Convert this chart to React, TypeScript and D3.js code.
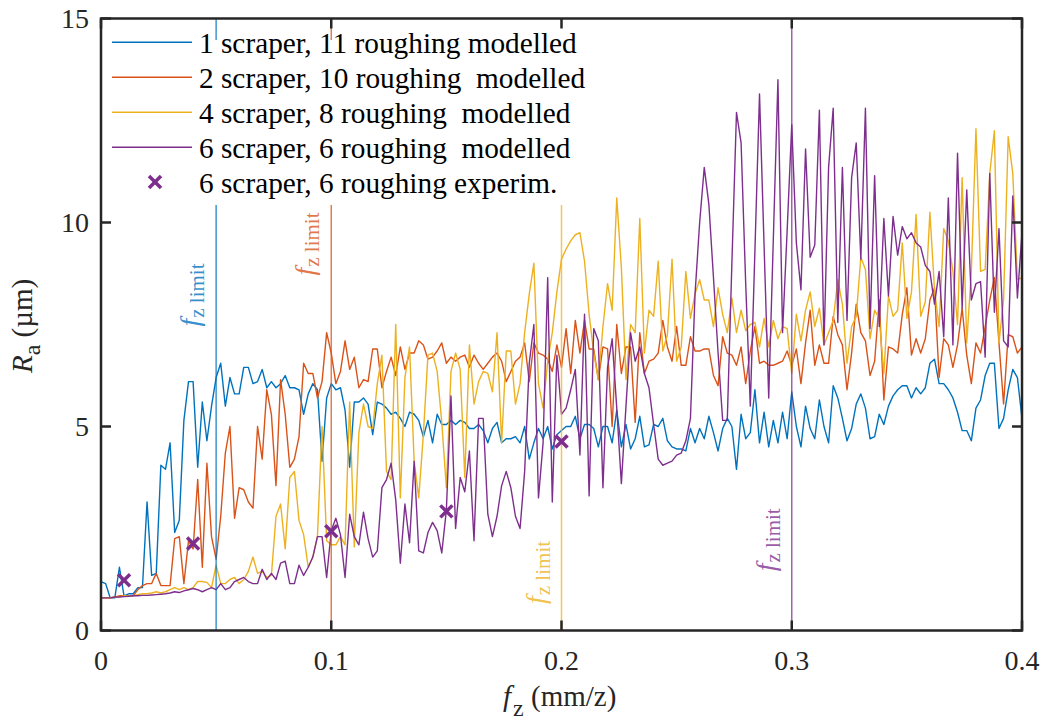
import React from 'react';
import * as d3 from 'd3';

// feed per tooth grid (mm/z), sampled every 0.002
const FZ_STEP = 0.002;
const FZ = d3.range(0, 201).map((i) => +(i * FZ_STEP).toFixed(3));

// 1 scraper, 11 roughing modelled
const RA_1S = [
  1.2, 1.15, 0.8, 0.8, 1.55, 0.85, 0.9, 0.9, 1.05, 1.05,
  3.15, 1.35, 1.4, 4.05, 3.95, 4.6, 2.4, 2.7, 5.15, 6.1,
  6.1, 4.0, 5.6, 4.65, 5.5, 6.2, 6.55, 5.5, 6.2, 5.8,
  5.8, 6.45, 6.45, 6.05, 6.1, 6.4, 5.95, 6.1, 5.95, 6.05,
  6.25, 5.95, 5.95, 5.9, 5.3, 5.8, 6.05, 5.9, 4.15, 5.7,
  6.05, 5.9, 5.95, 5.4, 4.0, 5.6, 5.6, 5.7, 5.55, 4.8,
  5.6, 5.55, 5.45, 5.3, 5.35, 5.2, 5.0, 5.35, 5.3, 5.15,
  4.75, 5.15, 4.6, 5.3, 5.05, 5.05, 5.15, 5.05, 5.15, 5.1,
  4.95, 4.95, 5.05, 4.9, 4.6, 4.95, 5.1, 4.6, 4.7, 4.7,
  4.75, 4.6, 5.0, 4.2, 4.6, 4.95, 4.7, 5.0, 4.45, 4.8,
  4.9, 5.0, 5.0, 5.25, 4.7, 5.05, 5.05, 4.95, 4.5, 5.0,
  5.0, 4.6, 5.4, 4.5, 5.05, 4.45, 4.7, 5.25, 4.5, 4.55,
  5.05, 5.0, 5.2, 4.65, 4.5, 4.45, 4.45, 4.4, 4.95, 4.6,
  4.95, 4.7, 5.25, 4.85, 4.4, 4.95, 5.2, 5.0, 3.95, 5.3,
  4.7, 4.85, 5.9, 4.6, 5.35, 4.5, 5.15, 4.6, 5.35, 4.7,
  5.85, 5.0, 4.5, 5.5, 4.95, 4.7, 5.65, 5.0, 4.6, 6.0,
  5.7, 5.2, 4.65, 4.95, 5.55, 5.8, 5.45, 4.7, 4.75, 5.3,
  5.05, 5.5, 5.75, 5.9, 6.0, 6.0, 5.7, 5.95, 5.8, 5.95,
  6.55, 6.65, 6.05, 6.05, 5.9, 5.7, 5.35, 4.9, 4.9, 4.65,
  5.45, 5.65, 6.25, 6.55, 6.55, 4.95, 5.2, 5.9, 6.4, 6.2,
  5.2,
];

// 2 scraper, 10 roughing modelled
const RA_2S = [
  0.8, 0.8, 0.8, 0.82, 0.85, 0.85, 0.85, 0.85, 1.0, 1.1,
  1.15, 1.15, 1.4, 1.1, 1.1, 1.1, 2.25, 2.3, 1.15, 2.2,
  2.0, 3.7, 1.55, 4.1, 2.3, 1.75, 2.8, 4.35, 5.0, 2.75,
  3.5, 3.45, 3.15, 3.0, 5.0, 4.2, 5.9, 5.3, 3.55, 6.15,
  5.3, 4.0, 4.2, 4.75, 6.55, 6.3, 6.3, 5.7, 6.1, 7.3,
  6.8, 6.05, 6.35, 7.1, 6.4, 6.7, 5.95, 6.15, 6.1, 6.9,
  6.9, 5.95, 6.35, 6.7, 6.25, 6.95, 6.4, 6.8, 6.8, 7.1,
  7.0, 6.65, 6.7, 6.85, 7.05, 6.55, 6.7, 6.6, 6.7, 6.75,
  6.45, 6.75, 6.55, 6.4, 6.55, 6.7, 6.8, 6.6, 6.1, 6.35,
  6.6, 6.7, 7.05, 6.1, 7.05, 6.8, 6.75, 6.65, 6.35, 7.0,
  6.45, 7.4, 6.3, 7.6, 6.8, 7.6, 6.9, 6.9, 6.15, 6.95,
  6.9, 5.0, 7.5, 6.3, 6.95, 6.95, 5.1, 7.3, 6.3, 6.6,
  6.65, 6.8, 7.6, 6.95, 6.6, 7.45, 6.5, 6.5, 7.2, 6.85,
  6.85, 6.9, 6.9, 6.25, 6.0, 7.2, 6.8, 6.75, 6.5, 6.95,
  6.05, 6.85, 7.45, 6.55, 6.6, 6.5, 6.5, 6.55, 6.6, 6.85,
  6.5, 6.9, 6.05, 7.05, 7.85, 6.5, 7.0, 6.55, 6.55, 7.7,
  7.25, 7.0, 5.9, 6.8, 8.0, 7.3, 7.1, 6.25, 6.6, 8.1,
  5.65, 6.95, 6.9, 6.8, 7.75, 8.4, 6.75, 7.15, 6.8, 7.15,
  8.1, 8.4, 6.2, 7.15, 7.0, 6.45, 7.0, 7.9, 6.75, 6.05,
  7.05, 6.8, 7.45, 8.1, 8.65, 7.05, 5.55, 7.25, 7.2, 6.8,
  6.95,
];

// 4 scraper, 8 roughing modelled
const RA_4S = [
  0.8, 0.8, 0.8, 0.82, 0.82, 0.85, 0.85, 0.85, 0.88, 0.9,
  0.9, 0.92, 0.95, 0.92, 0.95, 1.0, 1.05, 1.0, 1.05, 1.0,
  1.05, 1.2, 1.2, 1.18, 1.05, 1.6, 1.15, 1.15, 1.25, 1.3,
  1.15, 1.25, 1.45, 1.8, 1.4, 1.45, 1.3, 1.35, 2.8, 3.1,
  2.0, 3.75, 3.9, 2.7, 2.35, 1.55, 1.8, 2.3, 5.0, 2.2,
  2.1, 2.1, 2.3, 2.1, 5.6, 2.05, 4.85, 5.55, 5.0, 4.95,
  6.05, 6.75, 3.9, 3.7, 7.5, 3.25, 6.2, 6.95, 4.15, 3.25,
  4.8, 6.75, 6.8, 6.35, 5.1, 3.5, 6.35, 6.8, 6.4, 3.75,
  7.0, 5.55, 6.1, 6.35, 6.3, 5.85, 7.3, 4.6, 6.85, 6.85,
  5.55, 6.05, 7.3, 8.25, 9.0, 6.05, 5.45, 6.6, 7.3, 8.3,
  9.1, 9.35, 9.55, 9.7, 9.75, 9.05, 7.75, 6.8, 6.15, 7.45,
  8.5, 7.85, 10.6, 8.9, 6.15, 7.5, 7.3, 10.1, 6.8, 7.85,
  7.7, 9.05, 6.85, 7.25, 9.1, 6.6, 6.95, 8.8, 7.65, 8.25,
  8.6, 8.1, 8.1, 7.45, 8.4, 7.75, 7.3, 8.15, 7.3, 7.85,
  7.35, 7.5, 7.55, 6.95, 7.65, 6.95, 7.6, 7.15, 7.45, 7.4,
  6.3, 7.75, 7.1, 7.85, 8.3, 7.45, 7.9, 7.0, 7.3, 7.6,
  8.6, 8.0, 6.55, 7.45, 7.7, 9.15, 8.85, 7.15, 7.85, 7.65,
  6.3, 8.2, 7.7, 7.85, 9.5, 7.65, 8.3, 10.2, 7.7, 8.05,
  10.25, 8.35, 7.45, 9.85, 9.55, 8.8, 7.5, 11.1, 7.05, 8.8,
  12.3, 8.8, 8.85, 11.2, 12.25, 7.05, 8.1, 12.1, 11.2, 8.6,
  8.65,
];

// 6 scraper, 6 roughing modelled
const RA_6S = [
  0.8, 0.8, 0.8, 0.82, 0.82, 0.83, 0.84, 0.85, 0.85, 0.86,
  0.86, 0.87, 0.88, 0.89, 0.9, 0.92, 0.95, 0.93, 0.97, 1.0,
  1.03, 1.0, 0.95, 1.0, 1.05, 1.0, 1.15, 1.0, 1.05, 1.2,
  1.25, 1.3, 1.2, 1.15, 1.15, 1.5, 1.25, 1.4, 1.25, 1.65,
  1.7, 1.15, 1.15, 1.6, 1.35, 1.55, 1.8, 2.3, 2.3, 1.3,
  2.45, 2.75, 2.35, 1.3, 2.85, 2.3, 2.1, 2.9, 2.25, 1.8,
  1.95, 3.5, 3.7, 4.1, 3.2, 1.65, 3.1, 2.15, 4.15, 1.95,
  1.9, 2.4, 2.65, 2.45, 1.9, 2.95, 5.75, 2.5, 3.75, 3.4,
  4.4, 2.2, 5.2, 5.2, 2.85, 2.3, 2.8, 3.55, 3.9, 3.5,
  2.8, 2.5, 3.9, 6.55, 7.5, 3.25, 4.6, 8.65, 3.15, 6.75,
  5.3, 5.45, 5.9, 6.4, 4.3, 7.75, 3.3, 7.4, 7.1, 3.5,
  6.45, 7.15, 5.45, 3.6, 5.5, 7.3, 6.6, 6.95, 6.3, 5.95,
  5.05, 4.2, 4.05, 4.1, 4.15, 4.3, 4.35, 4.65, 5.2, 8.25,
  10.0, 11.35, 10.45, 8.65, 6.8, 5.15, 5.15, 9.0, 12.7, 11.95,
  8.5, 5.5, 9.3, 13.15, 9.4, 5.7, 9.6, 13.5, 7.3, 9.8,
  12.4, 9.5, 8.35, 11.8, 9.15, 9.45, 12.75, 7.0, 11.35, 12.8,
  7.55, 11.35, 7.6, 11.1, 11.95, 9.1, 12.8, 7.4, 11.15, 7.45,
  10.1, 8.2, 10.15, 9.2, 9.9, 9.6, 9.75, 9.5, 9.4, 8.95,
  8.8, 8.0, 8.8, 7.2, 10.6, 7.0, 11.7, 7.9, 10.8, 8.1,
  8.5, 8.55, 6.7, 11.2, 7.8, 9.85, 7.1, 6.95, 10.65, 8.15,
  9.75,
];

// 6 scraper, 6 roughing experimental
const EXP_FZ = [0.01, 0.04, 0.1, 0.15, 0.2];
const EXP_RA = [1.23, 2.13, 2.43, 2.92, 4.63];

const SERIES_NAMES = [
  '1 scraper, 11 roughing modelled',
  '2 scraper, 10 roughing  modelled',
  '4 scraper, 8 roughing  modelled',
  '6 scraper, 6 roughing  modelled',
];
const EXP_NAME = '6 scraper, 6 roughing experim.';
const SERIES_COLORS = ['#0072BD', '#D95319', '#EDB120', '#7E2F8E'];

// f_z limits per configuration
const LIMIT_FZ = [0.05, 0.1, 0.2, 0.3];
const LIMIT_TOP = [15, 15, 11.1, 15];
const LIMIT_LABEL_RA = [7.45, 8.7, 0.65, 1.45];

const X_TICKS = [0, 0.1, 0.2, 0.3, 0.4];
const X_TICK_LABELS = ['0', '0.1', '0.2', '0.3', '0.4'];
const Y_TICKS = [0, 5, 10, 15];
const Y_TICK_LABELS = ['0', '5', '10', '15'];

const FONT = "'Liberation Serif'";

export default function App() {
  const W = 1043;
  const H = 720;
  const L = 101, R = 1022, T = 18.5, B = 630.5;
  const x = d3.scaleLinear().domain([0, 0.4]).range([L, R]);
  const y = d3.scaleLinear().domain([0, 15]).range([B, T]);
  const line = d3
    .line<number>()
    .x((_, i) => x(FZ[i]))
    .y((d) => y(d));
  const series = [RA_1S, RA_2S, RA_4S, RA_6S];
  const axisColor = '#262626';
  const tickLen = 10;
  const mk = 6;
  const txt = { fontFamily: FONT, whiteSpace: 'pre' as const };

  return (
    <svg width={W} height={H} style={{ position: 'absolute', left: 0, top: 0, background: '#fff' }}>
      <rect x={0} y={0} width={W} height={H} fill="#fff" />
      {series.map((s, k) => (
        <path key={k} d={line(s) || ''} fill="none" stroke={SERIES_COLORS[k]} strokeWidth={1.4} strokeLinejoin="round" />
      ))}
      {LIMIT_FZ.map((f, k) => (
        <line
          key={k}
          x1={x(f)}
          x2={x(f)}
          y1={y(0)}
          y2={y(LIMIT_TOP[k])}
          stroke={SERIES_COLORS[k]}
          strokeOpacity={0.75}
          strokeWidth={1.5}
        />
      ))}
      {LIMIT_FZ.map((f, k) => (
        <text
          key={k}
          transform={`translate(${x(f) - 17},${y(LIMIT_LABEL_RA[k])}) rotate(-90)`}
          fill={SERIES_COLORS[k]}
          fillOpacity={0.8}
          style={txt}
        >
          <tspan fontStyle="italic" fontSize={28} style={txt}>f</tspan>
          <tspan fontSize={21} dy={5} dx={1} style={txt}>z limit</tspan>
        </text>
      ))}
      {EXP_FZ.map((f, k) => (
        <g key={k} stroke="#7E2F8E" strokeWidth={3.5} strokeLinecap="butt">
          <line x1={x(f) - mk} y1={y(EXP_RA[k]) - mk} x2={x(f) + mk} y2={y(EXP_RA[k]) + mk} />
          <line x1={x(f) - mk} y1={y(EXP_RA[k]) + mk} x2={x(f) + mk} y2={y(EXP_RA[k]) - mk} />
        </g>
      ))}

      {/* legend */}
      <rect x={L + 2} y={40} width={490} height={165} fill="#fff" />
      {SERIES_NAMES.map((name, k) => (
        <g key={k}>
          <line x1={112} x2={192} y1={42.3 + 35 * k} y2={42.3 + 35 * k} stroke={SERIES_COLORS[k]} strokeWidth={1.4} />
          <text x={199} y={52.5 + 35 * k} fontSize={29.3} fill="#000" style={txt}>
            {name}
          </text>
        </g>
      ))}
      <g stroke="#7E2F8E" strokeWidth={3.5}>
        <line x1={155 - mk} y1={182 - mk} x2={155 + mk} y2={182 + mk} />
        <line x1={155 - mk} y1={182 + mk} x2={155 + mk} y2={182 - mk} />
      </g>
      <text x={199} y={192.5} fontSize={29.3} fill="#000" style={txt}>
        {EXP_NAME}
      </text>

      {/* axes box and ticks */}
      <rect x={L} y={T} width={R - L} height={B - T} fill="none" stroke={axisColor} strokeWidth={2.5} />
      {X_TICKS.map((t, k) => (
        <g key={k} stroke={axisColor} strokeWidth={2.5}>
          <line x1={x(t)} x2={x(t)} y1={B} y2={B - tickLen} />
          <line x1={x(t)} x2={x(t)} y1={T} y2={T + tickLen} />
        </g>
      ))}
      {Y_TICKS.map((t, k) => (
        <g key={k} stroke={axisColor} strokeWidth={2.5}>
          <line x1={L} x2={L + tickLen} y1={y(t)} y2={y(t)} />
          <line x1={R} x2={R - tickLen} y1={y(t)} y2={y(t)} />
        </g>
      ))}
      {X_TICKS.map((t, k) => (
        <text key={k} x={x(t)} y={670} fontSize={28} textAnchor="middle" fill="#262626" style={txt}>
          {X_TICK_LABELS[k]}
        </text>
      ))}
      {Y_TICKS.map((t, k) => (
        <text key={k} x={89} y={y(t) + 9.5} fontSize={28} textAnchor="end" fill="#262626" style={txt}>
          {Y_TICK_LABELS[k]}
        </text>
      ))}

      {/* axis titles */}
      <text x={503} y={706} fontSize={29} fill="#262626" style={txt}>
        <tspan fontStyle="italic" style={txt}>f</tspan>
        <tspan fontSize={24} dy={10} dx={2} style={txt}>z</tspan>
        <tspan dy={-10} style={txt}> (mm/z)</tspan>
      </text>
      <text transform="translate(32,373) rotate(-90)" fontSize={29} fill="#262626" style={txt}>
        <tspan fontStyle="italic" style={txt}>R</tspan>
        <tspan fontSize={24} dy={8} style={txt}>a</tspan>
        <tspan dy={-8} style={txt}> (µm)</tspan>
      </text>
    </svg>
  );
}
